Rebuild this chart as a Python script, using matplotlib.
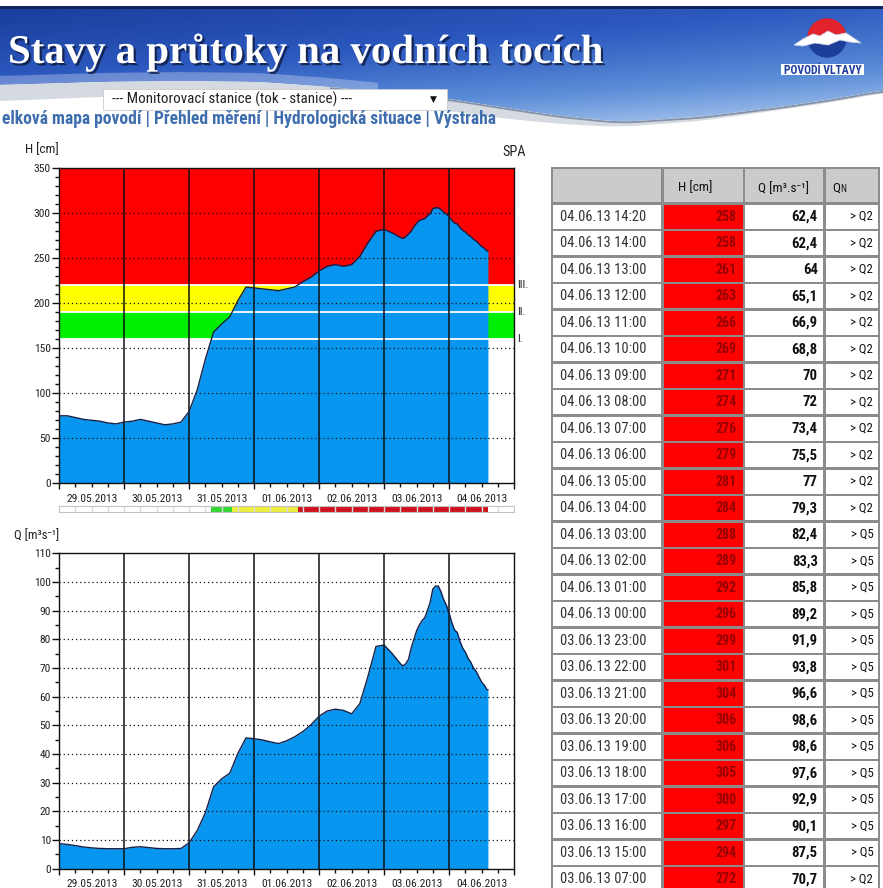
import numpy as np
import matplotlib
matplotlib.use("Agg")
import matplotlib.pyplot as plt
from matplotlib import font_manager
from matplotlib.patches import Rectangle, Polygon, Wedge, Circle
from matplotlib.colors import LinearSegmentedColormap
from matplotlib.ticker import MultipleLocator, NullFormatter, FuncFormatter
import matplotlib.transforms as mtransforms
import matplotlib.patheffects as pe

# ------------------------------------------------------------------ data
# hours since 29.05.2013 00:00
hours = [0, 3, 6, 9, 12, 15, 18, 21, 24, 27, 30, 33, 36, 39, 42, 45, 48, 51, 54, 57,
         60, 63, 66, 69, 72, 75, 78, 81, 84, 87, 90, 93, 96, 99, 102, 105, 108, 111,
         114, 117, 120, 123, 126,
         127, 128, 129, 130, 131, 132, 133, 134, 135, 136, 137, 138, 139, 140, 141,
         142, 143, 144, 145, 146, 147, 148, 149, 150, 151, 152, 153, 154, 155, 156,
         157, 158, 158.33]
level_cm = [75, 75, 73, 71, 70, 69, 67, 66, 68, 69, 71, 69, 67, 65, 66, 68, 80, 104, 138, 168,
            177, 185, 203, 218, 217, 216, 215, 214, 216, 218, 224, 229, 236, 241, 243, 241,
            243, 252, 267, 280, 282, 278, 273,
            272, 274, 277, 280, 285, 289, 292, 293, 294, 297, 300, 305, 306, 306, 304,
            301, 299, 296, 292, 289, 288, 284, 281, 279, 276, 274, 271, 269, 266, 263,
            261, 258, 258]
flow_m3s = [8.7, 8.4, 8.0, 7.5, 7.2, 7.0, 6.9, 6.9, 6.9, 7.4, 7.6, 7.3, 7.0, 6.9, 6.9, 7.0,
            9.0, 13.3, 19.5, 28.5, 31.3, 33.3, 40.2, 45.6, 45.3, 44.9, 44.2, 43.6, 44.6,
            46.0, 47.8, 50.2, 53.2, 55.0, 55.6, 55.2, 54.0, 57.5, 67.0, 77.5, 78.0, 75.0,
            71.5,
            70.7, 71.5, 73.0, 77.0, 80.0, 83.0, 85.0, 86.5, 87.5, 90.1, 92.9, 97.6, 98.6,
            98.6, 96.6, 93.8, 91.9, 89.2, 85.8, 83.3, 82.4, 79.3, 77.0, 75.5, 73.4, 72.0,
            70.0, 68.8, 66.9, 65.1, 64.0, 62.4, 62.4]
day_labels = ["29.05.2013", "30.05.2013", "31.05.2013", "01.06.2013",
              "02.06.2013", "03.06.2013", "04.06.2013"]
thresholds = [160, 190, 220]
threshold_labels = ["I.", "II.", "III."]

table_time = ["04.06.13 14:20", "04.06.13 14:00", "04.06.13 13:00", "04.06.13 12:00",
              "04.06.13 11:00", "04.06.13 10:00", "04.06.13 09:00", "04.06.13 08:00",
              "04.06.13 07:00", "04.06.13 06:00", "04.06.13 05:00", "04.06.13 04:00",
              "04.06.13 03:00", "04.06.13 02:00", "04.06.13 01:00", "04.06.13 00:00",
              "03.06.13 23:00", "03.06.13 22:00", "03.06.13 21:00", "03.06.13 20:00",
              "03.06.13 19:00", "03.06.13 18:00", "03.06.13 17:00", "03.06.13 16:00",
              "03.06.13 15:00", "03.06.13 07:00"]
table_h = [258, 258, 261, 263, 266, 269, 271, 274, 276, 279, 281, 284, 288, 289, 292,
           296, 299, 301, 304, 306, 306, 305, 300, 297, 294, 272]
table_q = [62.4, 62.4, 64, 65.1, 66.9, 68.8, 70, 72, 73.4, 75.5, 77, 79.3, 82.4, 83.3,
           85.8, 89.2, 91.9, 93.8, 96.6, 98.6, 98.6, 97.6, 92.9, 90.1, 87.5, 70.7]
table_qn = ["> Q2", "> Q2", "> Q2", "> Q2", "> Q2", "> Q2", "> Q2", "> Q2", "> Q2",
            "> Q2", "> Q2", "> Q2", "> Q5", "> Q5", "> Q5", "> Q5", "> Q5", "> Q5",
            "> Q5", "> Q5", "> Q5", "> Q5", "> Q5", "> Q5", "> Q5", "> Q2"]

# ------------------------------------------------------------------ setup
W, HP = 883, 888
avail = {f.name for f in font_manager.fontManager.ttflist}


def pick(*names):
    for n in names:
        if n in avail:
            return n
    return "DejaVu Sans"


NARROW = pick("Liberation Sans Narrow", "Arial Narrow", "Roboto Condensed",
              "Liberation Sans", "DejaVu Sans")
SERIF = pick("Liberation Serif", "DejaVu Serif")
plt.rcParams["font.family"] = [NARROW, "DejaVu Sans"]

fig = plt.figure(figsize=(W / 100, HP / 100), dpi=100)
fig.patch.set_facecolor("white")
renderer = fig.canvas.get_renderer()


def fit(s, target, family=None, weight="normal"):
    fam = family if family is not None else [NARROW, "DejaVu Sans"]
    t = fig.text(0, 0, s, fontsize=10, family=fam, weight=weight)
    w = t.get_window_extent(renderer=renderer).width
    t.remove()
    return 10.0 * target / w


def px_rect(x0, y0, x1, y1):
    return [x0 / W, 1 - y1 / HP, (x1 - x0) / W, (y1 - y0) / HP]


page = fig.add_axes([0, 0, 1, 1])
page.set_xlim(0, W)
page.set_ylim(HP, 0)
page.axis("off")

# ------------------------------------------------------------------ banner
page.add_patch(Rectangle((0, 6), W, 3.2, color="#13215c", lw=0, zorder=3))
ex = [0, 100, 180, 260, 330, 400, 450, 500, 560, 620, 700, 780, 840, 883]
ey = [85, 82, 81, 82, 87, 94, 99, 107, 116, 122, 117, 107, 98, 90]
th = [16, 15, 14, 13, 12, 12, 12, 11, 8, 5, 4, 3, 3, 3]
fx = np.linspace(0, W, 300)
fy = np.convolve(np.pad(np.interp(fx, ex, ey), 6, mode="edge"), np.ones(13) / 13, "valid")
ft = np.interp(fx, ex, th)

blue_verts = [(0, 9), (W, 9)] + list(zip(fx[::-1], fy[::-1]))
clip = Polygon(blue_verts, closed=True, fill=False, lw=0)
page.add_patch(clip)
gy, gx = np.mgrid[9:126, 0:W]
gv = 0.38 * gx / W + 0.62 * ((gy - 9) / 114.0) ** 1.25
cmap = LinearSegmentedColormap.from_list("bn", ["#1b3f9e", "#2d5ac0", "#5d8ed8", "#b9d1f1"])
im = page.imshow(gv, extent=(0, W, 126, 9), cmap=cmap, vmin=0, vmax=1,
                 aspect="auto", interpolation="bilinear", zorder=1)
im.set_clip_path(clip)
# silver swoosh
sw = list(zip(fx, fy)) + list(zip(fx[::-1], (fy + ft)[::-1]))
page.add_patch(Polygon(sw, closed=True, color="#d5d9e0", lw=0, zorder=2))
mask = fx < 380
hl = list(zip(fx[mask], fy[mask] - 9)) + list(zip(fx[mask][::-1], fy[mask][::-1]))
page.add_patch(Polygon(hl, closed=True, color="white", alpha=0.28, lw=0, zorder=2))
mask2 = fx > 330
page.plot(fx[mask2], fy[mask2] + 1, color="#8391a8", lw=1.3, zorder=2)

title_txt = "Stavy a průtoky na vodních tocích"
title = page.text(8, 63, title_txt, family=SERIF,
                  weight="bold", color="white", ha="left", va="baseline",
                  fontsize=fit(title_txt, 597, SERIF, "bold"), zorder=5)
title.set_path_effects([pe.SimplePatchShadow(offset=(1.6, -1.6), shadow_rgbFace="#0b1433",
                                             alpha=0.75), pe.Normal()])

# logo
page.add_patch(Circle((827, 38), 19, color="#1d3f9a", zorder=4))
page.add_patch(Wedge((827, 38), 19, 180, 360, color="#e3232c", zorder=4))
wave = [(794, 45), (803, 39), (813, 34), (820, 36), (828, 31), (836, 35), (846, 33),
        (861, 43), (850, 42), (840, 40), (828, 45), (815, 43), (803, 46)]
page.add_patch(Polygon(wave, closed=True, facecolor="white", edgecolor="#cfd6e6",
                       lw=0.6, zorder=5))
page.add_patch(Rectangle((781, 64.5), 83, 11, color="white", lw=0, zorder=4))
page.text(822.5, 70.2, "POVODÍ VLTAVY", ha="center", va="center", weight="bold",
          color="#1f3fa0", fontsize=fit("POVODÍ VLTAVY", 78, weight="bold"), zorder=5)

# dropdown
page.add_patch(Rectangle((103, 89), 344, 21, facecolor="white", edgecolor="#cccccc",
                         lw=0.6, zorder=4))
dd_txt = "--- Monitorovací stanice (tok - stanice) ---"
page.text(112, 99.5, dd_txt, ha="left", va="center", color="#222222", zorder=5,
          fontsize=fit(dd_txt, 238))
page.text(433, 99.5, "▼", ha="center", va="center", family="DejaVu Sans",
          fontsize=6.5, color="#111111", zorder=5)

# links
link_txt = "elková mapa povodí | Přehled měření | Hydrologická situace | Výstraha"
page.text(2, 119.5, link_txt, ha="left", va="center", weight="bold",
          color="#3e6eae", fontsize=fit(link_txt, 494, weight="bold"), zorder=5)

# ------------------------------------------------------------------ charts
AX_L, AX_R = 59.2, 514.1
BLUE = "#0796ef"
tick_fs = fit("29.05.2013", 51)


def day_fmt(x, pos):
    xi = int(round(x))
    if xi % 24 == 12 and 0 <= xi // 24 < len(day_labels):
        return day_labels[xi // 24]
    return ""


def setup(ax, ymax, ymaj, ymin):
    ax.set_xlim(0, 24 * len(day_labels))
    ax.set_ylim(0, ymax)
    ax.set_facecolor("white")
    ax.xaxis.set_major_locator(MultipleLocator(24))
    ax.xaxis.set_major_formatter(NullFormatter())
    ax.xaxis.set_minor_locator(MultipleLocator(6))
    ax.xaxis.set_minor_formatter(FuncFormatter(day_fmt))
    ax.yaxis.set_major_locator(MultipleLocator(ymaj))
    ax.yaxis.set_minor_locator(MultipleLocator(ymin))
    ax.tick_params(axis="x", which="major", length=4.5, width=1, direction="out",
                   color="#111111")
    ax.tick_params(axis="x", which="minor", length=3, width=1, direction="out",
                   pad=4.5, labelsize=tick_fs, labelcolor="#222222", color="#111111")
    ax.tick_params(axis="y", which="major", length=5, width=1, pad=1,
                   labelsize=tick_fs, labelcolor="#222222", color="#111111")
    ax.tick_params(axis="y", which="minor", length=3, width=1, color="#111111")
    for s in ax.spines.values():
        s.set_linewidth(1.0)
        s.set_color("#111111")
        s.set_zorder(6)


def overlay_grid(ax):
    yt = [v for v in ax.get_yticks() if 0 < v < ax.get_ylim()[1]]
    for v in yt:
        ax.axhline(v, color="#111111", lw=0.9, ls=(0, (1, 2.3)), zorder=4)
    for d in range(1, len(day_labels)):
        ax.axvline(24 * d, color="#111111", lw=1.1, zorder=4)


# --- water level
ax1 = fig.add_axes(px_rect(AX_L, 168.2, AX_R, 483.3))
setup(ax1, 350, 50, 10)
edges = thresholds + [350]
for lo, hi, c in zip(edges[:-1], edges[1:], ["#00ee00", "#ffff00", "#ff0000"]):
    ax1.axhspan(lo, hi, color=c, lw=0, zorder=0)
ax1.fill_between(hours, level_cm, 0, color=BLUE, lw=0, zorder=1)
for tv in thresholds:
    ax1.axhline(tv, color="white", lw=1.3, zorder=2)
overlay_grid(ax1)
ax1.plot(hours, level_cm, color="#14204a", lw=1.0, zorder=5)
trans = mtransforms.blended_transform_factory(ax1.transAxes, ax1.transData)
for tv, lab in zip(thresholds, threshold_labels):
    ax1.text(1.006, tv, lab, transform=trans, ha="left", va="center",
             fontsize=tick_fs, color="#222222", clip_on=False)

page.text(24.8, 149.7, "H [cm]", ha="left", va="center", color="#222222",
          fontsize=fit("H [cm]", 33.7))
page.text(514.5, 151.8, "SPA", ha="center", va="center", color="#222222",
          fontsize=fit("SPA", 23.4))

# --- stage indicator derived from the level series
axi = fig.add_axes(px_rect(AX_L, 506.5, AX_R, 511.6))
axi.set_xlim(0, 24 * len(day_labels))
axi.set_ylim(0, 1)
axi.set_xticks([])
axi.set_yticks([])
for s in axi.spines.values():
    s.set_color("#c4c4c4")
    s.set_linewidth(0.8)
tf = np.linspace(hours[0], hours[-1], 4000)
stage = (np.interp(tf, hours, level_cm)[:, None] >= np.array(thresholds)[None, :]).sum(1)
stage_cols = {1: "#33d633", 2: "#ecec3c", 3: "#d0121f"}
i = 0
while i < len(tf) - 1:
    j = i
    while j < len(tf) - 1 and stage[j + 1] == stage[i]:
        j += 1
    if stage[i] > 0:
        axi.axvspan(tf[i], tf[min(j + 1, len(tf) - 1)], color=stage_cols[stage[i]], lw=0)
    i = j + 1
for c in range(6, 24 * len(day_labels), 6):
    axi.axvline(c, color="#dcdcdc", lw=1.0)

# --- discharge
ax2 = fig.add_axes(px_rect(AX_L, 553.4, AX_R, 868.5))
setup(ax2, 110, 10, 5)
ax2.fill_between(hours, flow_m3s, 0, color=BLUE, lw=0, zorder=1)
overlay_grid(ax2)
ax2.plot(hours, flow_m3s, color="#14204a", lw=1.0, zorder=5)
page.text(13.8, 535.5, "Q [m³s⁻¹]", ha="left", va="center", color="#222222",
          family=[NARROW, "DejaVu Sans"], fontsize=fit("Q [m³s⁻¹]", 44.7))

# ------------------------------------------------------------------ table
col_x = [551.7, 662.3, 744.0, 824.3, 879.3]
head_top, head_bot = 168.3, 203.3
row_h = 26.5
n_rows = len(table_time)
page.add_patch(Rectangle((550.5, 167.0), 880.3 - 550.5, 900 - 167.0,
                         color="#8c8c8c", lw=0, zorder=1))
ins = 1.2
for k in range(4):
    page.add_patch(Rectangle((col_x[k] + ins, head_top + ins), col_x[k + 1] - col_x[k] - 2 * ins,
                             head_bot - head_top - 2 * ins, color="#cbcbcb", lw=0, zorder=2))
for r in range(n_rows):
    top = head_bot + r * row_h
    for k in range(4):
        page.add_patch(Rectangle((col_x[k] + ins, top + ins), col_x[k + 1] - col_x[k] - 2 * ins,
                                 row_h - 2 * ins, color="#ff0000" if k == 1 else "white",
                                 lw=0, zorder=2))

fs_date = fit("04.06.13 14:20", 85)
fs_h = fit("258", 21, weight="bold")
fs_q = fit("62,4", 26, weight="bold")
fs_qn = fit("> Q2", 22.5)
fs_head = fit("H [cm]", 34)
for r in range(n_rows):
    yc = head_bot + (r + 0.5) * row_h
    page.text(col_x[0] + 8.5, yc, table_time[r], ha="left", va="center",
              color="#333333", fontsize=fs_date, zorder=3)
    page.text(col_x[2] - 7.5, yc, str(table_h[r]), ha="right", va="center",
              color="#960000", weight="bold", fontsize=fs_h, zorder=3)
    qv = table_q[r]
    qs = str(int(qv)) if float(qv).is_integer() else f"{qv:.1f}".replace(".", ",")
    page.text(col_x[3] - 6.5, yc, qs, ha="right", va="center", color="#111111",
              weight="bold", fontsize=fs_q, zorder=3)
    page.text(col_x[4] - 6.0, yc, table_qn[r], ha="right", va="center",
              color="#111111", fontsize=fs_qn, zorder=3)

page.text(695, 188, "H [cm]", ha="center", va="center", color="#111111",
          fontsize=fs_head, zorder=3)
page.text(784, 189, "Q [m³.s⁻¹]", ha="center", va="center", color="#111111",
          family=[NARROW, "DejaVu Sans"], fontsize=fs_head, zorder=3)
page.text(832, 188, "Q", ha="left", va="center", color="#111111",
          fontsize=fs_head, zorder=3)
page.text(840, 189.5, "N", ha="left", va="center", color="#111111",
          fontsize=fs_head * 0.72, zorder=3)

fig.savefig("out.png", dpi=100, facecolor="white")
